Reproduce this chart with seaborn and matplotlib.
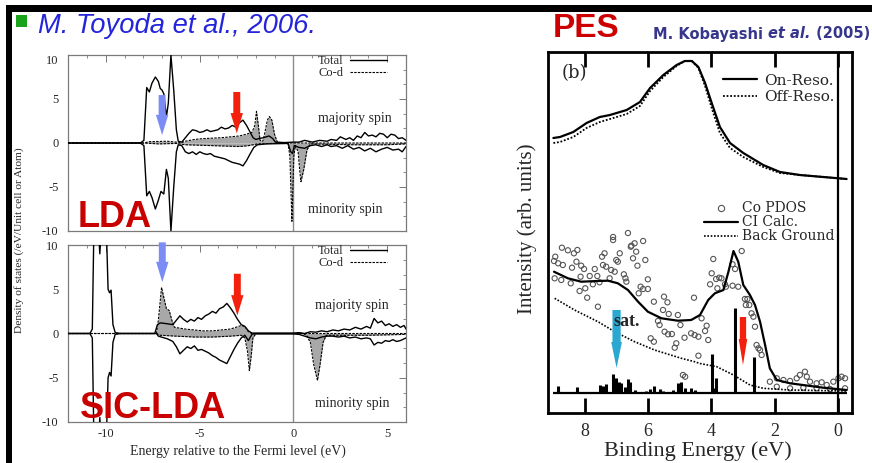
import matplotlib
matplotlib.use("Agg")
import matplotlib.pyplot as plt
import pandas as pd
import seaborn as sns
from matplotlib.lines import Line2D
from matplotlib.patches import Rectangle
from matplotlib.ticker import MultipleLocator

sns.set_style("white")
plt.rcParams["font.family"] = ["Liberation Serif", "DejaVu Serif"]
plt.rcParams["axes.unicode_minus"] = False

SERIF = "Liberation Serif"
SANS = "Liberation Sans"

# ---------------- LDA (energy eV, DOS) ----------------
LDA_TOT_UP = [(-12.0, 0), (-8.16, 0), (-7.97, 0.3), (-7.82, 6.3), (-7.68, 5.8), (-7.54, 6.8),
              (-7.36, 7.5), (-7.2, 7.0), (-7.1, 6.2), (-7.0, 6.0), (-6.91, 5.6), (-6.77, 3.0),
              (-6.67, 4.5), (-6.53, 10.0), (-6.38, 6.0), (-6.24, 1.5), (-6.14, 0.2), (-5.95, 0.1),
              (-5.76, 0.6), (-5.57, 1.1), (-5.38, 1.5), (-5.18, 1.4), (-4.99, 1.2), (-4.8, 1.3),
              (-4.61, 1.5), (-4.42, 1.3), (-4.22, 1.4), (-4.03, 1.5), (-3.84, 1.8), (-3.65, 1.6),
              (-3.46, 1.7), (-3.26, 2.0), (-3.07, 1.8), (-2.88, 2.3), (-2.69, 2.6), (-2.5, 2.0),
              (-2.3, 1.2), (-2.15, 0.6), (-2.0, 0.4), (-1.85, 0.5), (-1.6, 0.6), (-1.3, 0.8),
              (-1.1, 0.5), (-0.96, 0.1), (-0.48, 0.05), (0.0, 0.1), (0.3, 0.1), (0.6, 0.3),
              (1.0, 0.1), (1.4, 0.3), (1.8, 0.2), (2.0, 0.4), (2.3, 0.3), (2.5, 0.7), (2.8, 0.4),
              (3.0, 0.6), (3.2, 0.3), (3.4, 0.8), (3.6, 0.6), (3.8, 1.2), (4.0, 0.8), (4.2, 0.9),
              (4.4, 0.7), (4.6, 1.1), (4.8, 1.0), (5.0, 0.6), (5.2, 1.0), (5.4, 0.9), (5.6, 0.5),
              (5.8, 0.6), (6.0, 0.3)]
LDA_TOT_DN = [(-12.0, 0), (-8.16, 0), (-7.97, -0.3), (-7.82, -6.0), (-7.68, -5.5), (-7.54, -6.2),
              (-7.36, -7.5), (-7.2, -6.5), (-7.06, -5.5), (-6.91, -5.8), (-6.77, -3.0), (-6.67, -4.0),
              (-6.53, -10.0), (-6.38, -5.0), (-6.24, -1.0), (-6.14, -0.2), (-5.95, -0.3), (-5.76, -1.0),
              (-5.57, -1.2), (-5.38, -1.0), (-5.18, -1.3), (-4.99, -1.0), (-4.8, -1.2), (-4.61, -1.3),
              (-4.42, -1.2), (-4.22, -1.5), (-4.03, -1.6), (-3.84, -1.7), (-3.65, -1.8), (-3.46, -2.0),
              (-3.26, -2.2), (-3.07, -2.3), (-2.88, -2.4), (-2.69, -2.6), (-2.5, -2.0), (-2.3, -1.2),
              (-2.11, -0.5), (-1.92, -0.2), (-1.44, -0.1), (-0.29, -0.05), (-0.14, -1.0), (-0.05, -1.2),
              (0.05, -0.3), (0.3, -0.5), (0.6, -0.6), (0.9, -0.3), (1.2, -0.2), (1.5, -0.4), (1.8, -0.2),
              (2.0, -0.4), (2.3, -0.3), (2.6, -0.6), (2.9, -0.3), (3.2, -0.7), (3.5, -0.5), (3.8, -0.9),
              (4.1, -0.6), (4.4, -1.0), (4.7, -0.7), (5.0, -0.5), (5.3, -0.8), (5.6, -0.7), (5.8, -1.0),
              (6.0, -0.4)]
LDA_COD_UP = [(-12.0, 0), (-7.97, 0), (-7.68, 0.15), (-6.72, 0.2), (-6.24, 0.1), (-5.95, 0.05),
              (-5.76, 0.2), (-5.28, 0.4), (-4.8, 0.5), (-4.32, 0.55), (-3.84, 0.6), (-3.36, 0.7),
              (-2.88, 0.8), (-2.5, 1.0), (-2.21, 1.2), (-2.06, 2.0), (-1.97, 3.6), (-1.87, 2.0),
              (-1.78, 0.3), (-1.63, 0.2), (-1.54, 1.0), (-1.39, 2.6), (-1.28, 3.0), (-1.15, 2.6),
              (-1.01, 1.0), (-0.86, 0.1), (-0.48, 0), (6.0, 0)]
LDA_COD_DN = [(-12.0, 0), (-7.97, 0), (-7.2, -0.1), (-6.24, -0.05), (-5.76, -0.2), (-4.32, -0.3),
              (-2.88, -0.4), (-2.4, -0.3), (-1.92, -0.1), (-0.29, 0), (-0.19, -1.5), (-0.08, -8.9),
              (0.02, -1.5), (0.1, -0.3), (0.25, -1.0), (0.33, -3.0), (0.4, -4.4), (0.55, -3.0),
              (0.72, -0.8), (0.9, -0.1), (2.0, -0.15), (3.0, -0.2), (4.0, -0.2), (5.0, -0.2), (6.0, -0.1)]

# ---------------- SIC-LDA ----------------
SIC_TOT_UP = [(-12.0, 0), (-10.85, 0), (-10.72, 0.5), (-10.62, 14), (-10.45, 14), (-10.32, 9.0),
              (-10.18, 14), (-10.0, 14), (-9.88, 5.0), (-9.8, 4.6), (-9.72, 4.9), (-9.62, 1.0),
              (-9.5, 0.1), (-9.2, 0), (-7.39, 0), (-7.25, 1.0), (-7.1, 1.2), (-6.72, 1.1), (-6.43, 1.0),
              (-6.24, 1.5), (-6.05, 2.0), (-5.86, 1.6), (-5.66, 1.3), (-5.47, 1.6), (-5.28, 1.4),
              (-5.09, 1.8), (-4.9, 1.6), (-4.7, 2.0), (-4.51, 2.2), (-4.32, 2.5), (-4.13, 2.3),
              (-3.94, 2.8), (-3.74, 3.0), (-3.55, 3.4), (-3.36, 2.9), (-3.17, 2.3), (-2.98, 1.6),
              (-2.78, 1.0), (-2.59, 0.8), (-2.4, 0.3), (-2.21, 0.05), (0.0, 0.05), (0.3, 0.1),
              (0.6, 0.0), (0.9, 0.2), (1.2, 0.15), (1.5, 0.3), (1.8, 0.2), (2.1, 0.4), (2.4, 0.3),
              (2.7, 0.5), (3.0, 0.4), (3.3, 0.7), (3.6, 0.5), (3.9, 0.8), (4.1, 0.6), (4.3, 1.7),
              (4.5, 1.2), (4.7, 1.4), (4.9, 0.9), (5.1, 1.1), (5.3, 0.8), (5.5, 1.0), (5.7, 0.7),
              (5.9, 0.9), (6.0, 0.5)]
SIC_TOT_DN = [(-12.0, 0), (-10.85, 0), (-10.72, -0.5), (-10.62, -14), (-10.45, -14), (-10.32, -9.5),
              (-10.18, -14), (-10.0, -14), (-9.88, -5.0), (-9.8, -4.4), (-9.72, -4.8), (-9.62, -1.0),
              (-9.5, -0.1), (-9.2, 0), (-7.3, 0), (-7.2, -0.3), (-6.72, -0.6), (-6.43, -0.9),
              (-6.24, -1.5), (-6.05, -2.3), (-5.86, -1.9), (-5.66, -1.5), (-5.47, -1.7), (-5.28, -1.4),
              (-5.09, -1.9), (-4.9, -1.8), (-4.7, -2.0), (-4.51, -2.2), (-4.32, -2.5), (-4.13, -2.7),
              (-3.94, -3.0), (-3.74, -3.2), (-3.55, -3.4), (-3.36, -2.6), (-3.17, -1.8), (-2.98, -1.1),
              (-2.78, -0.5), (-2.59, -0.2), (-2.4, -0.8), (-2.2, -0.05), (0.0, -0.05), (0.3, -0.1),
              (0.6, -0.3), (0.9, -0.5), (1.2, -0.6), (1.5, -0.4), (1.8, -0.3), (2.1, -0.3), (2.4, -0.4),
              (2.7, -0.3), (3.0, -0.5), (3.3, -0.4), (3.6, -0.6), (3.9, -0.5), (4.1, -0.6), (4.3, -1.3),
              (4.5, -1.0), (4.7, -1.1), (4.9, -0.8), (5.1, -0.9), (5.3, -0.7), (5.5, -0.9), (5.7, -0.8),
              (5.9, -0.6), (6.0, -0.5)]
SIC_COD_UP = [(-12.0, 0), (-7.3, 0), (-7.2, 1.5), (-7.03, 5.2), (-6.9, 4.0), (-6.77, 2.8), (-6.62, 2.6),
              (-6.48, 1.5), (-6.34, 0.7), (-6.05, 0.6), (-5.76, 0.5), (-5.28, 0.4), (-4.8, 0.3),
              (-4.32, 0.3), (-3.84, 0.4), (-3.36, 0.5), (-3.07, 0.7), (-2.78, 0.9), (-2.59, 0.8),
              (-2.4, 0.2), (-2.21, 0), (6.0, 0)]
SIC_COD_DN = [(-12.0, 0), (-7.3, 0), (-7.1, -0.2), (-6.24, -0.3), (-5.28, -0.4), (-4.32, -0.4),
              (-3.36, -0.3), (-2.78, -0.2), (-2.59, -0.5), (-2.45, -2.0), (-2.35, -4.2), (-2.25, -2.5),
              (-2.16, -0.5), (-2.0, 0), (0.5, 0), (0.7, -0.2), (0.9, -1.0), (1.08, -3.5), (1.28, -5.3),
              (1.42, -3.5), (1.58, -1.0), (1.75, -0.2), (2.5, -0.2), (4.0, -0.2), (6.0, -0.1)]

# arrows: (energy, start, end, colour)
LDA_ARROWS = [(-7.0, 5.45, 0.9, "#7b8df5"), (-3.02, 5.8, 1.1, "#f2200c")]
SIC_ARROWS = [(-6.99, 10.3, 5.8, "#7b8df5"), (-2.99, 6.75, 2.03, "#f2200c")]

# ---------------- PES (binding energy eV, intensity arb.) ----------------
ON_RESO = [(9.0, 27.5), (8.79, 27.6), (8.37, 28.1), (7.95, 29.0), (7.53, 29.6), (7.21, 29.8),
           (6.68, 30.3), (6.26, 31.1), (5.94, 32.5), (5.52, 33.8), (5.10, 34.8), (4.84, 35.2),
           (4.62, 35.2), (4.41, 34.6), (4.20, 33.0), (3.99, 31.0), (3.73, 28.6), (3.41, 27.0),
           (2.99, 26.0), (2.36, 24.8), (1.83, 24.1), (1.20, 23.8), (0.46, 23.6), (-0.28, 23.4)]
OFF_RESO = [(9.0, 27.0), (8.79, 27.1), (8.37, 27.6), (7.95, 28.5), (7.53, 29.1), (7.21, 29.4),
            (6.68, 29.9), (6.26, 30.7), (5.94, 32.2), (5.52, 33.6), (5.10, 34.7), (4.84, 35.2),
            (4.62, 35.2), (4.41, 34.5), (4.20, 32.7), (3.99, 30.5), (3.73, 28.0), (3.41, 26.5),
            (2.99, 25.6), (2.36, 24.6), (1.83, 24.0), (1.20, 23.8), (0.46, 23.6), (-0.28, 23.4)]
CI_CALC = [(8.98, 14.13), (8.54, 13.47), (8.12, 13.13), (7.6, 13.2), (7.27, 13.23), (6.96, 12.97),
           (6.64, 12.3), (6.32, 11.13), (6.01, 10.13), (5.58, 9.47), (5.06, 9.23), (4.64, 9.3),
           (4.36, 9.8), (4.10, 11.3), (3.89, 11.97), (3.62, 12.3), (3.46, 14.13), (3.30, 16.2),
           (3.15, 15.13), (2.99, 12.8), (2.78, 11.8), (2.62, 10.8), (2.46, 9.13), (2.30, 6.8),
           (2.15, 4.47), (1.93, 3.3), (1.51, 2.97), (0.46, 2.53), (-0.28, 2.3)]
BACKGROUND = [(8.96, 11.47), (8.33, 10.3), (7.59, 9.13), (7.06, 8.13), (6.43, 7.13), (5.80, 6.3),
              (4.95, 5.47), (4.53, 5.13), (4.36, 4.95), (3.83, 4.63), (3.30, 3.8), (2.78, 2.8),
              (2.36, 2.47), (1.51, 2.3), (-0.28, 2.2)]
CO_PDOS = [(8.73, 16.53), (8.54, 16.27), (8.24, 16.3), (8.35, 15.97), (8.94, 15.63), (8.98, 15.2),
           (8.85, 14.97), (8.70, 14.8), (8.41, 14.53), (8.12, 14.73), (8.03, 14.4), (8.27, 15.13),
           (7.69, 14.4), (7.43, 14.8), (7.33, 14.63), (7.46, 15.63), (7.38, 15.97), (7.11, 17.3),
           (6.90, 15.97), (7.01, 15.3), (6.96, 15.13), (7.17, 14.3), (7.06, 14.13), (6.77, 13.87),
           (6.53, 16.73), (6.43, 16.97), (6.16, 17.2), (6.55, 16.63), (6.38, 16.13), (6.48, 15.47),
           (6.09, 15.3), (6.34, 14.73), (8.96, 13.47), (8.75, 13.3), (8.45, 12.97), (8.14, 13.63),
           (7.85, 13.7), (7.61, 13.7), (7.54, 13.07), (7.75, 12.87), (7.99, 12.47), (8.17, 12.2),
           (7.93, 11.53), (7.59, 10.63), (7.22, 13.47), (6.72, 13.47), (6.69, 13.13), (6.01, 13.37),
           (6.24, 12.63), (6.16, 12.4), (6.01, 12.4), (6.30, 11.97), (5.50, 11.63), (5.82, 11.13),
           (5.39, 11.07), (5.53, 10.3), (5.35, 9.9), (5.06, 9.8), (4.55, 11.53), (5.69, 9.2),
           (5.64, 8.8), (4.98, 8.8), (5.48, 8.13), (5.25, 7.9), (5.37, 7.87), (4.64, 7.97),
           (4.53, 7.8), (4.85, 7.53), (5.92, 7.47), (5.82, 7.13), (5.11, 6.97), (5.16, 6.53),
           (4.90, 3.8), (4.83, 3.63), (6.64, 18.0), (7.11, 17.6),
           (3.94, 15.4), (3.04, 16.2), (3.33, 14.87), (3.25, 14.4), (3.99, 13.97), (3.85, 13.4),
           (3.75, 13.53), (3.68, 13.47), (4.04, 12.87), (3.81, 12.47), (3.57, 12.87), (3.54, 12.63),
           (3.33, 12.73), (3.15, 12.63), (2.94, 11.4), (2.86, 11.4), (2.91, 10.8), (2.80, 10.8),
           (2.73, 9.97), (2.67, 9.63), (4.31, 9.47), (4.15, 8.73), (4.20, 8.2), (4.41, 7.63),
           (4.10, 7.3), (2.62, 8.63), (2.57, 6.8), (2.51, 6.47), (2.46, 6.3), (2.41, 5.8),
           (4.41, 5.73), (2.15, 3.13), (1.93, 3.47), (1.72, 3.3), (1.51, 3.2), (1.30, 3.47),
           (1.20, 3.8), (1.04, 4.13), (0.98, 3.63), (0.88, 3.13), (0.67, 2.97), (0.51, 3.07),
           (0.35, 2.8), (0.14, 3.13), (-0.02, 3.47), (-0.12, 3.63), (-0.23, 3.47), (-0.23, 2.47),
           (0.67, 2.47), (1.51, 2.47), (1.09, 2.53), (0.25, 2.4), (1.93, 2.63)]
STICK_BASE = 2.0
STICK_RANGE = (9.0, -0.3)
STICKS = [(8.85, 2.73), (8.24, 2.63), (7.75, 2.13), (7.54, 2.8), (7.43, 2.73), (7.32, 2.87),
          (7.11, 3.87), (7.01, 3.53), (6.93, 3.13), (6.85, 2.97), (6.72, 2.63), (6.64, 3.4),
          (6.59, 3.13), (6.43, 2.3), (6.06, 2.2), (5.95, 2.4), (5.80, 2.73), (5.64, 2.4),
          (5.53, 2.2), (5.21, 2.3), (5.06, 2.97), (4.97, 3.13), (4.85, 2.47), (4.64, 2.53),
          (4.53, 2.3), (3.99, 5.87), (3.94, 2.47), (3.85, 3.47), (3.25, 10.53), (2.64, 5.63)]
PES_ARROWS = [(7.0, 10.3, 4.5, "#2aa8d2", 0.26, 0.34), (3.0, 9.6, 4.8, "#f2200c", 0.2, 0.27)]
PES_TICKS = [8, 6, 4, 2, 0]

# ---------------- figure ----------------
W, H = 872, 463
fig = plt.figure(figsize=(W / 100, H / 100), dpi=100)
fig.patch.set_facecolor("white")


def fx(px):
    return px / W


def fy(py):
    return 1 - py / H


ax_lda = fig.add_axes([fx(68.3), fy(231), fx(337.7), 176 / H])
ax_sic = fig.add_axes([fx(68.3), fy(422), fx(337.7), 177 / H])
ax_pes = fig.add_axes([fx(548), fy(413), fx(304), 361 / H])

DASH = (0, (2.2, 1.1))


def dos_panel(ax, tot_up, tot_dn, cod_up, cod_dn, arrows):
    for cod in (cod_up, cod_dn):
        df = pd.DataFrame(cod, columns=["E", "D"])
        ax.fill_between(df["E"], 0, df["D"], color="#a8a8a8", lw=0, zorder=1)
        sns.lineplot(data=df, x="E", y="D", ax=ax, estimator=None, sort=False,
                     color="k", linewidth=0.8, linestyle=DASH, zorder=3)
    for tot in (tot_up, tot_dn):
        df = pd.DataFrame(tot, columns=["E", "D"])
        sns.lineplot(data=df, x="E", y="D", ax=ax, estimator=None, sort=False,
                     color="k", linewidth=1.0, zorder=4)
    ax.axvline(0, color="#8c8c8c", lw=1.0, zorder=2)
    ax.set_xlim(-12, 6)
    ax.set_ylim(-10, 10)
    ax.set_xlabel("")
    ax.set_ylabel("")
    ax.set_xticks([-10, -5, 0, 5])
    ax.set_yticks([-10, -5, 0, 5, 10])
    ax.set_yticklabels(["-10", "-5", "0", "5", "10"])
    ax.xaxis.set_minor_locator(MultipleLocator(1))
    ax.yaxis.set_minor_locator(MultipleLocator(5 / 3))
    ax.tick_params(which="both", direction="in", top=True, right=True, color="#777777")
    ax.tick_params(which="major", length=5, width=0.7, labelsize=9)
    ax.tick_params(which="minor", length=2.5, width=0.6)
    ax.tick_params(axis="y", pad=7)
    ax.tick_params(axis="x", pad=4)
    for s in ax.spines.values():
        s.set_color("#7a7a7a")
        s.set_linewidth(0.9)
    handles = [Line2D([], [], color="k", lw=1.0), Line2D([], [], color="k", lw=0.8, ls=DASH)]
    ax.legend(handles, ["Total", "Co-d"], loc="upper right", bbox_to_anchor=(0.944, 1.0),
              frameon=False, markerfirst=False, prop={"family": SERIF, "size": 9},
              handlelength=3.0, handletextpad=0.5, labelspacing=0.0, borderpad=0,
              borderaxespad=0)
    for x, y0, y1, c in arrows:
        ax.arrow(x, y0, 0, y1 - y0, width=0.37, head_width=0.66, head_length=2.3,
                 length_includes_head=True, color=c, lw=0, zorder=6, clip_on=False)


dos_panel(ax_lda, LDA_TOT_UP, LDA_TOT_DN, LDA_COD_UP, LDA_COD_DN, LDA_ARROWS)
dos_panel(ax_sic, SIC_TOT_UP, SIC_TOT_DN, SIC_COD_UP, SIC_COD_DN, SIC_ARROWS)
ax_lda.tick_params(axis="x", labelbottom=False)
ax_lda.yaxis.get_major_ticks()[-1].label1.set_va("top")

ax_lda.text(-11.48, -9.55, "LDA", family=SANS, weight="bold", fontsize=26, color="#c80000",
            ha="left", va="baseline", zorder=7)
ax_sic.text(-11.37, -9.5, "SIC-LDA", family=SANS, weight="bold", fontsize=26, color="#c80000",
            ha="left", va="baseline", zorder=7)
ax_lda.text(1.31, 2.84, "majority spin", fontsize=10, ha="left", va="center")
ax_lda.text(0.78, -7.6, "minority spin", fontsize=10, ha="left", va="center")
ax_sic.text(1.15, 3.16, "majority spin", fontsize=10, ha="left", va="center")
ax_sic.text(1.15, -7.9, "minority spin", fontsize=10, ha="left", va="center")

fig.text(fx(19), fy(240), "Density of states (/eV/Unit cell or Atom)", rotation=90,
         fontsize=8.2, ha="center", va="center")
fig.text(fx(238), fy(451), "Energy relative to the Fermi level (eV)", fontsize=10,
         ha="center", va="center")

# ---------------- PES panel ----------------
ax = ax_pes
for data, ls, lw in ((ON_RESO, "-", 1.6), (OFF_RESO, (0, (1, 1)), 1.3),
                     (CI_CALC, "-", 1.6), (BACKGROUND, (0, (1, 1)), 1.2)):
    df = pd.DataFrame(data, columns=["E", "I"])
    sns.lineplot(data=df, x="E", y="I", ax=ax, estimator=None, sort=False,
                 color="k", linewidth=lw, linestyle=ls, zorder=4)
pdos = pd.DataFrame(CO_PDOS, columns=["E", "I"])
sns.scatterplot(data=pdos, x="E", y="I", ax=ax, s=14, marker="o", zorder=3, legend=False)
coll = ax.collections[-1]
coll.set_facecolor("none")
coll.set_edgecolor("#555555")
coll.set_linewidth(0.8)
sticks = pd.DataFrame(STICKS, columns=["E", "I"])
ax.vlines(sticks["E"], STICK_BASE, sticks["I"], color="k", lw=2.2, zorder=5)
ax.hlines(STICK_BASE, STICK_RANGE[1], STICK_RANGE[0], color="k", lw=1.6, zorder=5)
ax.axvline(0, color="k", lw=1.6, zorder=5)
for x, y0, y1, c, w, hw in PES_ARROWS:
    ax.arrow(x, y0, 0, y1 - y0, width=w, head_width=hw, head_length=2.6,
             length_includes_head=True, color=c, lw=0, zorder=6)
ax.text(7.11, 9.1, "sat.", fontsize=13, weight="bold", ha="left", va="center", zorder=7)
ax.text(8.73, 34.0, "(b)", family="DejaVu Serif", fontsize=13, ha="left", va="center")

ax.set_xlim(9.17, -0.45)
ax.set_ylim(0, 36.1)
ax.set_xlabel("")
ax.set_ylabel("")
ax.set_xticks(PES_TICKS)
ax.set_xticklabels([str(t) for t in PES_TICKS])
ax.set_yticks([])
ax.tick_params(axis="x", which="major", direction="in", top=True, bottom=True, length=11,
               width=2, labelsize=13, pad=7, color="k")
for s in ax.spines.values():
    s.set_color("k")
    s.set_linewidth(2)

h1 = [Line2D([], [], color="k", lw=1.6), Line2D([], [], color="k", lw=1.3, ls=(0, (1, 1)))]
leg1 = ax.legend(h1, ["On-Reso.", "Off-Reso."], loc="upper right", bbox_to_anchor=(0.944, 0.94),
                 frameon=False, prop={"family": "DejaVu Serif", "size": 11}, handlelength=2.2,
                 handletextpad=0.5, labelspacing=0.15, borderpad=0, borderaxespad=0)
ax.add_artist(leg1)
h2 = [Line2D([], [], color="#555555", marker="o", mfc="none", ls="none", ms=4.5, mew=0.8),
      Line2D([], [], color="k", lw=1.6), Line2D([], [], color="k", lw=1.2, ls=(0, (1, 1)))]
ax.legend(h2, ["Co PDOS", "CI Calc.", "Back Ground"], loc="upper right",
          bbox_to_anchor=(0.944, 0.586), frameon=False, prop={"family": "DejaVu Serif", "size": 10},
          handlelength=2.5, handletextpad=0.3, labelspacing=0.0, borderpad=0, borderaxespad=0)

fig.text(fx(527), fy(229), "Intensity (arb. units)", rotation=90, fontsize=15,
         ha="center", va="center")
fig.text(fx(698), fy(456), "Binding Energy (eV)", fontsize=16, ha="center", va="baseline")

# ---------------- titles & frame ----------------
fig.add_artist(Rectangle((fx(6), fy(11.5)), fx(866), 6.5 / H, transform=fig.transFigure,
                         facecolor="k", edgecolor="none"))
fig.add_artist(Rectangle((fx(6), 0), fx(5.5), fy(5), transform=fig.transFigure,
                         facecolor="k", edgecolor="none"))
fig.add_artist(Rectangle((fx(16), fy(27)), fx(11), 12 / H, transform=fig.transFigure,
                         facecolor="#1aa31a", edgecolor="none"))
fig.text(fx(38), fy(33), "M. Toyoda et al., 2006.", family=SANS, style="italic", fontsize=19.7,
         color="#2424dc", ha="left", va="baseline")
fig.text(fx(553), fy(37), "PES", family=SANS, weight="bold", fontsize=24, color="#cc0000",
         ha="left", va="baseline")

renderer = fig.canvas.get_renderer()
xpos = fx(653)
kob_color = "#36368c"
for part, style in (("M. Kobayashi ", "normal"), ("et al.", "italic"), (" (2005)", "normal")):
    t = fig.text(xpos, fy(38.5), part, family="DejaVu Sans", weight="bold", style=style,
                 fontsize=10.5, color=kob_color, ha="left", va="baseline")
    bb = t.get_window_extent(renderer=renderer)
    xpos += bb.width / (W)

fig.savefig("out.png", dpi=100, facecolor="white")
